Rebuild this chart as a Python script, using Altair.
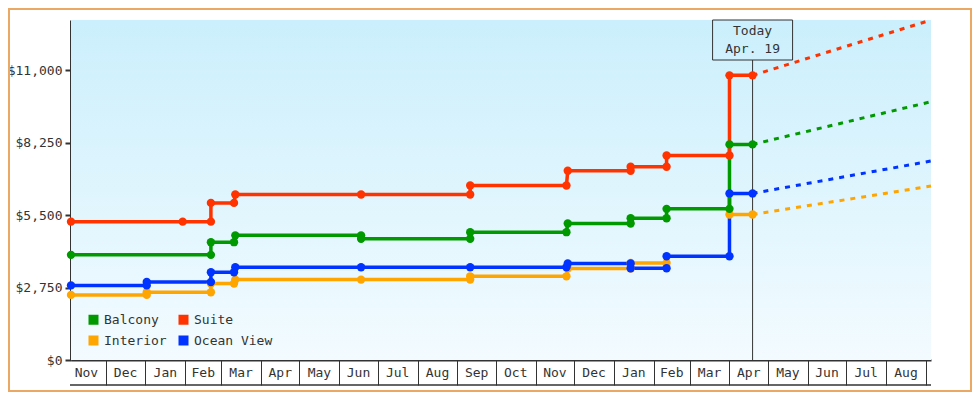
import altair as alt
import pandas as pd

FONT = "DejaVu Sans Mono"
INK = "#333333"

# legend order (filled column by column: Balcony/Interior, then Suite/Ocean View)
series_names = ["Balcony", "Interior", "Suite", "Ocean View"]
series_colors = ["#009900", "#ffa500", "#ff3300", "#0033ff"]

# price history (repeated dates = price change on that day)
interior_dates = ["2013-11-04", "2014-01-02", "2014-01-02", "2014-02-21", "2014-02-21",
                  "2014-03-11", "2014-03-12", "2014-06-18", "2014-09-11", "2014-09-11",
                  "2014-11-25", "2014-11-26", "2015-01-14", "2015-01-14", "2015-02-11"]
interior_prices = [2470, 2470, 2570, 2570, 2900, 2900, 3050, 3050, 3050, 3175,
                   3175, 3470, 3470, 3685, 3685]
interior_dates_2 = ["2015-04-01", "2015-04-19"]
interior_prices_2 = [5520, 5520]

ocean_dates = ["2013-11-04", "2014-01-02", "2014-01-02", "2014-02-21", "2014-02-21",
               "2014-03-11", "2014-03-12", "2014-06-18", "2014-09-11", "2014-11-25",
               "2014-11-26", "2015-01-14", "2015-01-14", "2015-02-11", "2015-02-11",
               "2015-04-01", "2015-04-01", "2015-04-19"]
ocean_prices = [2830, 2830, 2960, 2960, 3330, 3330, 3520, 3520, 3520, 3520,
                3660, 3660, 3480, 3480, 3935, 3935, 6320, 6320]

balcony_dates = ["2013-11-04", "2014-02-21", "2014-02-21", "2014-03-11", "2014-03-12",
                 "2014-06-18", "2014-06-18", "2014-09-11", "2014-09-11", "2014-11-25",
                 "2014-11-26", "2015-01-14", "2015-01-14", "2015-02-11", "2015-02-11",
                 "2015-04-01", "2015-04-01", "2015-04-19"]
balcony_prices = [3990, 3990, 4470, 4470, 4730, 4730, 4600, 4600, 4850, 4850,
                  5180, 5180, 5380, 5380, 5735, 5735, 8180, 8180]

suite_dates = ["2013-11-04", "2014-01-30", "2014-02-21", "2014-02-21", "2014-03-11",
               "2014-03-12", "2014-06-18", "2014-09-11", "2014-09-11", "2014-11-25",
               "2014-11-26", "2015-01-14", "2015-01-14", "2015-02-11", "2015-02-11",
               "2015-04-01", "2015-04-01", "2015-04-19"]
suite_prices = [5250, 5250, 5250, 5960, 5960, 6280, 6280, 6280, 6620, 6620,
                7180, 7180, 7330, 7330, 7760, 7760, 10800, 10800]

# forecast
today_date = "2015-04-19"
today_label = ["Today", "Apr. 19"]
forecast_end_date = "2015-09-05"
forecast_start = {"Interior": 5520, "Ocean View": 6320, "Balcony": 8180, "Suite": 10800}
forecast_end = {"Interior": 6600, "Ocean View": 7550, "Balcony": 9800, "Suite": 12900}

# axes
x_domain = ["2013-11-04", "2015-09-05"]
month_labels = ["Nov", "Dec", "Jan", "Feb", "Mar", "Apr", "May", "Jun", "Jul", "Aug", "Sep",
                "Oct", "Nov", "Dec", "Jan", "Feb", "Mar", "Apr", "May", "Jun", "Jul", "Aug"]
month_first = "2013-11-01"
y_ticks = [0, 2750, 5500, 8250, 11000]
y_max = 12900

W, H = 860, 340


def ms(d):
    return int(pd.Timestamp(d, tz="UTC").value // 10**6)


draw_order = ["Interior", "Ocean View", "Balcony", "Suite"]
rows = []
idx = 0
for name, segs in [("Interior", [(interior_dates, interior_prices), (interior_dates_2, interior_prices_2)]),
                   ("Ocean View", [(ocean_dates, ocean_prices)]),
                   ("Balcony", [(balcony_dates, balcony_prices)]),
                   ("Suite", [(suite_dates, suite_prices)])]:
    for s, (ds, ps) in enumerate(segs):
        for d, p in zip(ds, ps):
            rows.append({"series": name, "line_series": name, "seg": f"{name}-{s}",
                         "date": d, "price": p, "idx": idx})
            idx += 1
hist = pd.DataFrame(rows)

frows = []
for name in draw_order:
    frows.append({"line_series": name, "date": today_date, "price": forecast_start[name], "idx": 0})
    frows.append({"line_series": name, "date": forecast_end_date, "price": forecast_end[name], "idx": 1})
fc = pd.DataFrame(frows)

starts = pd.date_range(month_first, periods=len(month_labels) + 1, freq="MS", tz="UTC")
mids = [starts[i] + (starts[i + 1] - starts[i]) / 2 for i in range(len(month_labels))]
months = pd.DataFrame({"date": [m.strftime("%Y-%m-%dT%H:%M:%SZ") for m in mids], "label": month_labels})
tick_vals = [int(s.value // 10**6) for s in starts[1:]]

today_df = pd.DataFrame({"date": [today_date], "label": [today_label]})

xscale = alt.Scale(type="utc", domain=[ms(x_domain[0]), ms(x_domain[1])], nice=False)
xaxis = alt.Axis(values=tick_vals, labels=False, tickSize=25, tickWidth=1, tickColor=INK,
                 domainColor=INK, domainWidth=2, title=None, grid=False)
X = alt.X("date:T", scale=xscale, axis=xaxis, title=None)
yscale = alt.Scale(domain=[0, y_max], nice=False, zero=True)
yaxis = alt.Axis(values=y_ticks, format="$,.0f", title=None, tickSize=6, tickWidth=2,
                 tickColor=INK, domainColor=INK, domainWidth=3, labelPadding=3, grid=False,
                 labelFont=FONT, labelFontSize=13, labelColor=INK)
Y = alt.Y("price:Q", scale=yscale, axis=yaxis, title=None)

# stroke scale uses a different domain order so its (hidden) legend is not merged with the color legend
color_of = dict(zip(series_names, series_colors))
stroke_enc = alt.Stroke("line_series:N",
                        scale=alt.Scale(domain=draw_order, range=[color_of[n] for n in draw_order]),
                        legend=None)
color_enc = alt.Color("series:N", scale=alt.Scale(domain=series_names, range=series_colors),
                      legend=alt.Legend(orient="none", legendX=16, legendY=293, columns=2, title=None,
                                        symbolType="square", symbolSize=100, symbolStrokeWidth=0,
                                        symbolOpacity=1, zindex=2,
                                        labelFont=FONT, labelFontSize=13, labelColor=INK,
                                        columnPadding=10, rowPadding=7, labelOffset=4, padding=0))

dummy = pd.DataFrame({"k": [0]})

border = alt.Chart(dummy).mark_rect(fillOpacity=0, stroke="#eaa864", strokeWidth=2).encode(
    x=alt.value(-62), x2=alt.value(W + 40), y=alt.value(-11), y2=alt.value(H + 31))

bg = alt.Chart(dummy).mark_rect(
    fill=alt.Gradient(gradient="linear",
                      stops=[alt.GradientStop(color="#cbeffc", offset=0),
                             alt.GradientStop(color="#f3fbff", offset=1)],
                      x1=0, x2=0, y1=0, y2=1)
).encode(x=alt.value(0), x2=alt.value(W), y=alt.value(0), y2=alt.value(H))

bottom_line = alt.Chart(dummy).mark_rule(color=INK, strokeWidth=1.5).encode(
    x=alt.value(-1), x2=alt.value(W), y=alt.value(H + 25))

month_text = alt.Chart(months).mark_text(font=FONT, fontSize=13, color=INK, baseline="middle").encode(
    x=X, y=alt.value(H + 13), text="label:N")

today_rule = alt.Chart(today_df).mark_rule(color=INK, strokeWidth=1).encode(
    x=X, y=alt.value(40), y2=alt.value(H))
today_box = alt.Chart(today_df).mark_rect(fillOpacity=0, stroke=INK, strokeWidth=1,
                                          xOffset=-40, x2Offset=40).encode(
    x=X, x2="date:T", y=alt.value(0), y2=alt.value(40))
today_text = alt.Chart(today_df).mark_text(font=FONT, fontSize=13, color=INK, baseline="top",
                                           lineHeight=18).encode(
    x=X, y=alt.value(5), text="label")

lines = alt.Chart(hist).mark_line(strokeWidth=3.5, interpolate="linear").encode(
    x=X, y=Y, stroke=stroke_enc, detail="seg:N", order="idx:Q")
points = alt.Chart(hist).mark_circle(size=70, opacity=1).encode(
    x=X, y=Y, color=color_enc)
fc_lines = alt.Chart(fc).mark_line(strokeWidth=3, strokeDash=[5, 6]).encode(
    x=X, y=Y, stroke=stroke_enc, order="idx:Q")

chart = alt.layer(border, bg, bottom_line, month_text, today_rule, today_box, today_text,
                  fc_lines, lines, points).properties(
    width=W, height=H,
    autosize=alt.AutoSizeParams(type="none"),
    padding={"left": 63, "top": 12, "right": 41, "bottom": 32},
).configure_view(stroke=None).configure_axis(labelFont=FONT, labelFontSize=13, labelColor=INK)

chart.save("out.html", embed_options={"renderer": "svg", "actions": False})
